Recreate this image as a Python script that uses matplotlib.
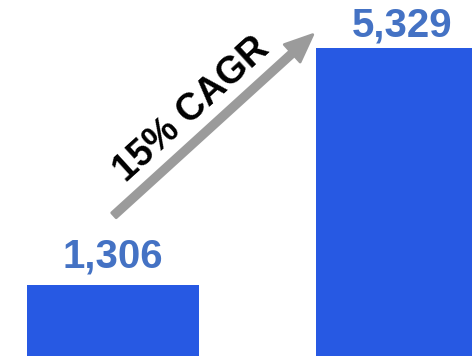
import matplotlib.pyplot as plt
from matplotlib.patches import FancyArrowPatch

# Values shown on the two bars
periods = ["start", "end"]
values = [1306, 5329]
growth_label = "15% CAGR"

BAR_COLOR = "#2759E3"
LABEL_COLOR = "#4472C4"
ARROW_COLOR = "#9B9B9B"

plt.rcParams["font.family"] = ["Liberation Sans", "DejaVu Sans"]

fig = plt.figure(figsize=(4.72, 3.56), dpi=100)
ax = fig.add_axes([0, 0, 1, 1])

x = [0, 1]
ax.bar(x, values, width=0.595, color=BAR_COLOR, linewidth=0)

# the chart is cut tight around the bars, so the limits crop them a little
ax.set_xlim(-0.39, 1.24)
ax.set_ylim(102, 6143)
ax.axis("off")

# value labels above each bar (the tall one sits closer to its bar)
label_pad = [18, 11]
for xi, v, pad in zip(x, values, label_pad):
    ax.annotate(f"{v:,}", xy=(xi, v), xytext=(0, pad * 0.72),
                textcoords="offset points", ha="center", va="baseline",
                fontsize=29, fontweight="bold", color=LABEL_COLOR)

# growth arrow from the small bar up towards the big one
arrow = FancyArrowPatch(
    (0.237, 0.390), (0.667, 0.908), transform=ax.transAxes,
    arrowstyle="simple,head_length=1.0,head_width=0.85,tail_width=0.24",
    mutation_scale=20, color=ARROW_COLOR, linewidth=2, joinstyle="round",
    capstyle="round",
)
ax.add_patch(arrow)

ax.text(0.407, 0.693, growth_label, transform=ax.transAxes, rotation=42.3,
        rotation_mode="anchor", ha="center", va="center",
        fontsize=27, fontweight="bold", color="black")

fig.savefig("out.png", dpi=100)
